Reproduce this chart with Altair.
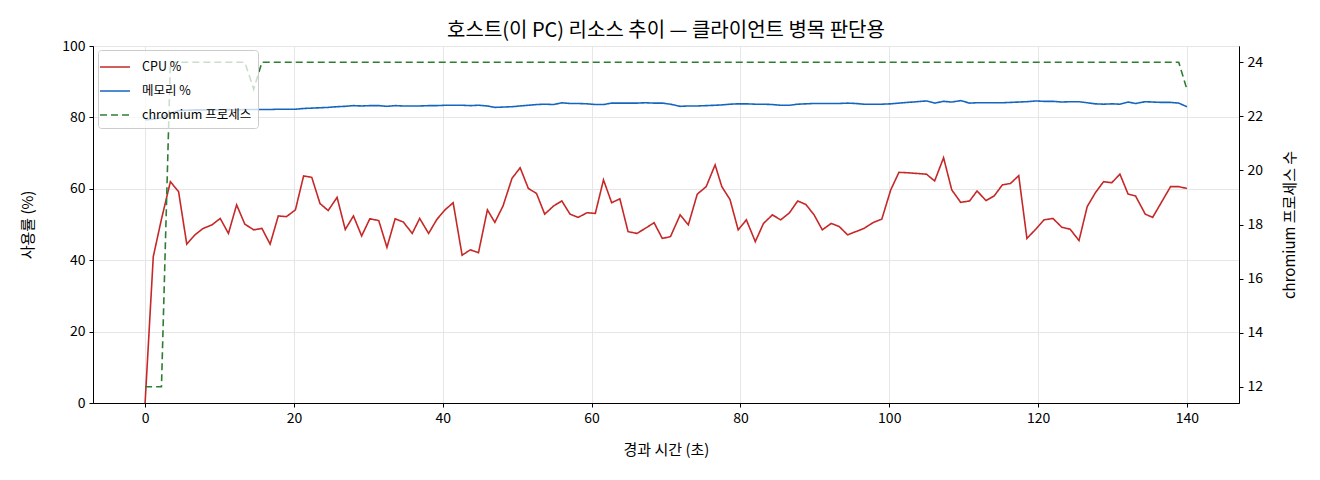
import altair as alt
import pandas as pd

# 경과 시간 (초)
t_sec = [0.0, 1.1, 2.2, 3.4, 4.5, 5.6, 6.7, 7.8, 9.0, 10.1,
         11.2, 12.3, 13.4, 14.6, 15.7, 16.8, 17.9, 19.0, 20.2, 21.3,
         22.4, 23.5, 24.6, 25.8, 26.9, 28.0, 29.1, 30.2, 31.4, 32.5,
         33.6, 34.7, 35.9, 36.9, 38.1, 39.2, 40.3, 41.4, 42.6, 43.7,
         44.8, 46.0, 47.0, 48.1, 49.3, 50.4, 51.5, 52.6, 53.7, 54.9,
         56.0, 57.1, 58.2, 59.4, 60.5, 61.6, 62.7, 63.8, 64.9, 66.1,
         67.2, 68.4, 69.5, 70.6, 71.9, 73.0, 74.2, 75.4, 76.6, 77.5,
         78.6, 79.7, 80.8, 82.0, 83.1, 84.3, 85.4, 86.6, 87.7, 88.8,
         89.9, 91.0, 92.2, 93.3, 94.4, 95.5, 96.6, 97.8, 99.0, 100.2,
         101.3, 102.5, 103.7, 105.0, 106.1, 107.3, 108.4, 109.6, 110.8, 111.8,
         113.0, 114.1, 115.2, 116.3, 117.4, 118.5, 119.7, 120.8, 122.0, 123.2,
         124.3, 125.5, 126.6, 127.7, 128.8, 129.9, 131.0, 132.1, 133.1, 134.4,
         135.4, 136.6, 137.8, 138.9, 140.0]

cpu_pct = [0.0, 41.0, 51.5, 62.0, 59.2, 44.5, 47.1, 48.9, 49.9, 51.7,
           47.5, 55.5, 50.1, 48.5, 48.9, 44.5, 52.4, 52.2, 54.1, 63.6,
           63.2, 55.9, 53.9, 57.6, 48.6, 52.4, 46.8, 51.6, 51.1, 43.6,
           51.6, 50.7, 47.5, 51.7, 47.5, 51.4, 54.1, 56.1, 41.4, 42.9,
           42.1, 54.1, 50.6, 55.2, 62.9, 65.9, 60.1, 58.7, 52.9, 55.2,
           56.6, 52.9, 52.0, 53.3, 53.1, 62.5, 56.1, 57.2, 48.0, 47.5,
           48.9, 50.5, 46.1, 46.6, 52.7, 49.9, 58.5, 60.6, 66.7, 60.6,
           57.0, 48.5, 51.3, 45.2, 50.3, 52.7, 51.3, 53.3, 56.6, 55.6,
           52.7, 48.5, 50.3, 49.4, 47.1, 48.0, 48.9, 50.5, 51.5, 59.7,
           64.6, 64.5, 64.3, 64.1, 62.2, 68.7, 59.7, 56.2, 56.6, 59.4,
           56.7, 58.0, 61.1, 61.5, 63.7, 46.1, 48.7, 51.3, 51.7, 49.2,
           48.7, 45.5, 55.0, 58.9, 62.0, 61.7, 64.1, 58.5, 58.0, 52.9,
           52.0, 56.3, 60.6, 60.6, 60.1]

mem_pct = [79.3, 79.5, 79.9, 81.1, 81.9, 82.0, 82.1, 82.1, 82.1, 82.1,
           82.2, 82.1, 82.2, 82.2, 82.2, 82.2, 82.3, 82.3, 82.3, 82.5,
           82.6, 82.7, 82.8, 83.0, 83.1, 83.3, 83.2, 83.3, 83.3, 83.1,
           83.3, 83.2, 83.2, 83.2, 83.3, 83.3, 83.4, 83.4, 83.4, 83.3,
           83.4, 83.2, 82.8, 82.9, 83.0, 83.2, 83.4, 83.6, 83.7, 83.6,
           84.1, 83.9, 83.9, 83.8, 83.6, 83.6, 84.0, 84.0, 84.0, 84.0,
           84.1, 84.0, 84.0, 83.7, 83.1, 83.2, 83.2, 83.3, 83.4, 83.5,
           83.7, 83.8, 83.8, 83.7, 83.7, 83.6, 83.4, 83.4, 83.7, 83.8,
           83.9, 83.9, 83.9, 83.9, 84.0, 83.9, 83.7, 83.7, 83.7, 83.8,
           84.0, 84.2, 84.4, 84.6, 84.0, 84.5, 84.3, 84.7, 84.0, 84.1,
           84.1, 84.1, 84.1, 84.2, 84.3, 84.4, 84.6, 84.5, 84.5, 84.3,
           84.4, 84.4, 84.1, 83.8, 83.7, 83.8, 83.7, 84.3, 83.9, 84.4,
           84.3, 84.2, 84.2, 84.0, 83.0]

chromium_cnt = [12, 12, 12, 24, 24, 24, 24, 24, 24, 24,
                24, 24, 24, 23, 24, 24, 24, 24, 24, 24,
                24, 24, 24, 24, 24, 24, 24, 24, 24, 24,
                24, 24, 24, 24, 24, 24, 24, 24, 24, 24,
                24, 24, 24, 24, 24, 24, 24, 24, 24, 24,
                24, 24, 24, 24, 24, 24, 24, 24, 24, 24,
                24, 24, 24, 24, 24, 24, 24, 24, 24, 24,
                24, 24, 24, 24, 24, 24, 24, 24, 24, 24,
                24, 24, 24, 24, 24, 24, 24, 24, 24, 24,
                24, 24, 24, 24, 24, 24, 24, 24, 24, 24,
                24, 24, 24, 24, 24, 24, 24, 24, 24, 24,
                24, 24, 24, 24, 24, 24, 24, 24, 24, 24,
                24, 24, 24, 24, 23]

series_names = ["CPU %", "메모리 %", "chromium 프로세스"]
series_colors = ["#c62828", "#1565c0", "#2e7d32"]
series_dash = [[1, 0], [1, 0], [7, 4]]

FONT = "Noto Sans CJK KR"

pct = pd.concat([
    pd.DataFrame({"t": t_sec, "v": cpu_pct, "series": series_names[0]}),
    pd.DataFrame({"t": t_sec, "v": mem_pct, "series": series_names[1]}),
])
proc = pd.DataFrame({"t": t_sec, "n": chromium_cnt, "series": series_names[2]})

x_enc = alt.X("t:Q", scale=alt.Scale(domain=[-7, 147], nice=False, zero=False),
              axis=alt.Axis(values=[0, 20, 40, 60, 80, 100, 120, 140],
                            title="경과 시간 (초)", grid=True, titlePadding=17))

legend = alt.Legend(title=None, orient="none", legendX=5, legendY=4,
                    symbolType="M-1.5,0H1.5", symbolSize=400, symbolStrokeWidth=1.6,
                    labelFontSize=12.5, labelFont=FONT, labelOffset=16,
                    rowPadding=6, padding=6, fillColor="rgba(255,255,255,0.75)",
                    strokeColor="#cccccc", cornerRadius=3)
color_enc = alt.Color("series:N", scale=alt.Scale(domain=series_names, range=series_colors),
                      legend=legend)
dash_enc = alt.StrokeDash("series:N", scale=alt.Scale(domain=series_names, range=series_dash),
                          legend=legend)

left = alt.Chart(pct).mark_line(strokeWidth=1.6).encode(
    x=x_enc,
    y=alt.Y("v:Q", scale=alt.Scale(domain=[0, 100], nice=False),
            axis=alt.Axis(values=[0, 20, 40, 60, 80, 100], title="사용률 (%)",
                          grid=True, titlePadding=26)),
    color=color_enc,
    strokeDash=dash_enc,
)

right = alt.Chart(proc).mark_line(strokeWidth=1.6).encode(
    x=x_enc,
    y=alt.Y("n:Q", scale=alt.Scale(domain=[11.4, 24.6], nice=False, zero=False),
            axis=alt.Axis(orient="right", values=[12, 14, 16, 18, 20, 22, 24],
                          title="chromium 프로세스 수", grid=False, titlePadding=20,
                          titleAngle=270, titleBaseline="top")),
    color=color_enc,
    strokeDash=dash_enc,
)

chart = alt.layer(left, right).resolve_scale(y="independent").properties(
    width=1146, height=357,
    autosize=alt.AutoSizeParams(type="none"),
    padding={"left": 85, "top": 38, "right": 70, "bottom": 60},
    title=alt.TitleParams("호스트(이 PC) 리소스 추이 — 클라이언트 병목 판단용",
                          fontSize=20, fontWeight="normal", font=FONT,
                          anchor="middle", frame="group", offset=8, dy=10,
                          color="black"),
).configure_view(stroke="black", strokeWidth=1).configure_axis(
    domainColor="black", tickColor="black", labelColor="black", titleColor="black",
    tickSize=4, labelPadding=4, labelFontSize=14, titleFontSize=15,
    labelFont=FONT, titleFont=FONT, titleFontWeight="normal",
    gridColor="#e6e6e6", domainWidth=1,
)

chart.save("out.html", embed_options={"renderer": "svg", "actions": False})
